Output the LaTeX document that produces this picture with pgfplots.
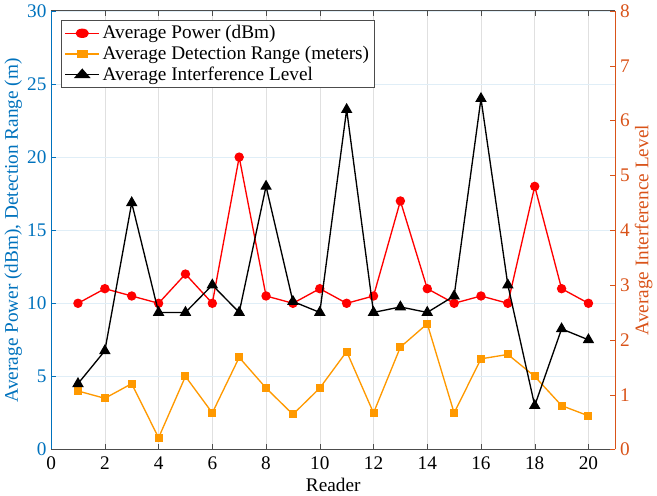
\documentclass[border=0pt]{standalone}
\usepackage{fontspec}
\setmainfont{Liberation Serif}
\usepackage{pgfplots}
\pgfplotsset{compat=1.18}
\definecolor{mblue}{rgb}{0,0.447,0.741}
\definecolor{morange}{rgb}{0.85,0.325,0.098}
\definecolor{amber}{rgb}{1,0.6,0}
\begin{document}
\begin{tikzpicture}
\pgfplotsset{every axis/.append style={
  scale only axis, width=422pt, height=328pt,
  xmin=0, xmax=21, xtick={0,2,...,20},
  tick align=inside, major tick length=4pt,
  /pgf/number format/assume math mode=true,
  ticklabel style={font=\Large}, label style={font=\Large},
}}
\begin{axis}[
  axis y line*=left, axis x line*=box,
  ymin=0, ymax=30, ytick={0,5,...,30},
  xlabel={Reader}, xlabel style={yshift=1pt},
  ylabel={Average Power (dBm), Detection Range (m)},
  ylabel style={mblue, yshift=-3pt}, y tick label style={mblue},
  y axis line style={mblue, thick}, ytick style={mblue},
  x axis line style={black!70, thick}, xtick style={black!70},
  x tick label style={yshift=-2pt},
  xmajorgrids, ymajorgrids,
  x grid style={black!12}, y grid style={mblue!12},
  xtick pos=both,
]
\addplot[red, line width=1pt, mark=*, mark size=3pt] coordinates {
(1,10) (2,11) (3,10.5) (4,10) (5,12) (6,10) (7,20) (8,10.5) (9,10) (10,11)
(11,10) (12,10.5) (13,17) (14,11) (15,10) (16,10.5) (17,10) (18,18) (19,11) (20,10)};
\addplot[amber, line width=1pt, mark=square*, mark size=2.5pt] coordinates {
(1,4) (2,3.5) (3,4.5) (4,0.8) (5,5) (6,2.5) (7,6.3) (8,4.2) (9,2.4) (10,4.2)
(11,6.7) (12,2.5) (13,7) (14,8.6) (15,2.5) (16,6.2) (17,6.5) (18,5) (19,3) (20,2.3)};
\end{axis}
\begin{axis}[
  axis y line*=right, axis x line=none,
  ymin=0, ymax=8, ytick={0,...,8},
  ylabel={Average Interference Level},
  ylabel style={morange, yshift=3pt}, y tick label style={morange},
  y axis line style={morange, thick}, ytick style={morange},
  legend style={at={(0.018,0.98)}, anchor=north west, draw=black!70, thick,
    font=\Large, row sep=0pt, inner sep=2pt},
  legend cell align=left,
  legend image post style={xscale=1.5},
]
\addlegendimage{red, line width=1pt, mark=*, mark size=3pt}
\addlegendentry{Average Power (dBm)}
\addlegendimage{amber, line width=1pt, mark=square*, mark size=2.5pt}
\addlegendentry{Average Detection Range (meters)}
\addplot[black, line width=1pt, mark=triangle*, mark size=4pt] coordinates {
(1,1.2) (2,1.8) (3,4.5) (4,2.5) (5,2.5) (6,3.0) (7,2.5) (8,4.8) (9,2.7) (10,2.5)
(11,6.2) (12,2.5) (13,2.6) (14,2.5) (15,2.8) (16,6.4) (17,3.0) (18,0.8) (19,2.2) (20,2.0)};
\addlegendentry{Average Interference Level}
\end{axis}
\end{tikzpicture}
\end{document}
